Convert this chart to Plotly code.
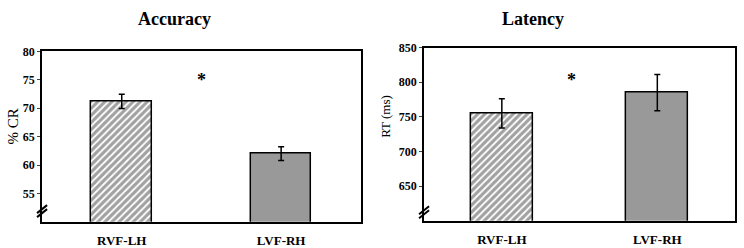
import plotly.graph_objects as go

categories = ["RVF-LH", "LVF-RH"]
accuracy = [71.2, 62.0]
accuracy_err = [1.25, 1.2]
latency = [755, 785]
latency_err = [21, 26]
acc_ticks = [55, 60, 65, 70, 75, 80]
rt_ticks = [650, 700, 750, 800, 850]
sig_acc = (0.5, 75)
sig_rt = (0.45, 803)

FONT = "Liberation Serif"
xpos = list(range(len(categories)))

def bars(vals, errs, xa, ya, width):
    return go.Bar(
        x=xpos, y=vals, xaxis=xa, yaxis=ya, width=width,
        marker=dict(
            color=["white", "#999999"],
            pattern=dict(shape=["/", ""], fgcolor="black", bgcolor="white", size=5, solidity=0.65),
            line=dict(color="black", width=1.5),
        ),
        error_y=dict(type="data", array=errs, color="black", thickness=1.5, width=3),
        showlegend=False,
    )

fig = go.Figure()
fig.add_trace(bars(accuracy, accuracy_err, "x", "y", 0.38))
fig.add_trace(bars(latency, latency_err, "x2", "y2", 0.40))

axcommon = dict(showline=True, mirror=True, linecolor="black", linewidth=2, showgrid=False, zeroline=False)
fig.update_layout(
    width=744, height=248, margin=dict(l=0, r=0, t=0, b=0),
    paper_bgcolor="white", plot_bgcolor="white",
    font=dict(family=FONT, color="black"),
    bargap=0,
    xaxis=dict(domain=[0.0565, 0.485], range=[-0.5, 1.5], tickvals=xpos, ticktext=categories,
               ticks="", tickfont=dict(size=13, family=FONT, weight="bold"), ticklabelstandoff=6, anchor="y", **axcommon),
    yaxis=dict(domain=[0.105, 0.815], range=[50, 80], tickvals=acc_ticks, ticks="outside", ticklen=3, tickwidth=1,
               tickfont=dict(size=12, family=FONT, weight="bold"), anchor="x", **axcommon),
    xaxis2=dict(domain=[0.570, 0.988], range=[-0.5, 1.5], tickvals=xpos, ticktext=categories,
                ticks="", tickfont=dict(size=13, family=FONT, weight="bold"), ticklabelstandoff=6, anchor="y2", **axcommon),
    yaxis2=dict(domain=[0.109, 0.831], range=[600, 850], tickvals=rt_ticks, ticks="outside", ticklen=3, tickwidth=1,
                tickfont=dict(size=12, family=FONT, weight="bold"), anchor="x2", **axcommon),
)

ann = [
    dict(text="<b>Accuracy</b>", x=0.235, y=0.948, font=dict(size=18)),
    dict(text="<b>Latency</b>", x=0.716, y=0.948, font=dict(size=18)),
    dict(text="% CR", x=0.018, y=0.504, textangle=-90, font=dict(size=15)),
    dict(text="RT (ms)", x=0.518, y=0.544, textangle=-90, font=dict(size=13)),
]
for a in ann:
    a.update(xref="paper", yref="paper", showarrow=False, xanchor="center", yanchor="middle")
ann += [
    dict(text="<b>*</b>", x=sig_acc[0], y=sig_acc[1], xref="x", yref="y", showarrow=False, font=dict(size=18)),
    dict(text="<b>*</b>", x=sig_rt[0], y=sig_rt[1], xref="x2", yref="y2", showarrow=False, font=dict(size=18)),
]
fig.update_layout(annotations=ann)

shapes = []
for xr, yr, anchor in (("x domain", "y domain", 0.0625), ("x2 domain", "y2 domain", 0.05)):
    for dy in (-2, 2):
        shapes.append(dict(type="line", xref=xr, yref=yr, xsizemode="pixel", ysizemode="pixel",
                           xanchor=0, yanchor=anchor, x0=-5, x1=5, y0=-4 + dy, y1=4 + dy,
                           line=dict(color="black", width=2)))
fig.update_layout(shapes=shapes)

fig.write_html("out.html", config={"displayModeBar": False},
               post_script="document.body.style.margin='0';document.body.style.padding='0';")
